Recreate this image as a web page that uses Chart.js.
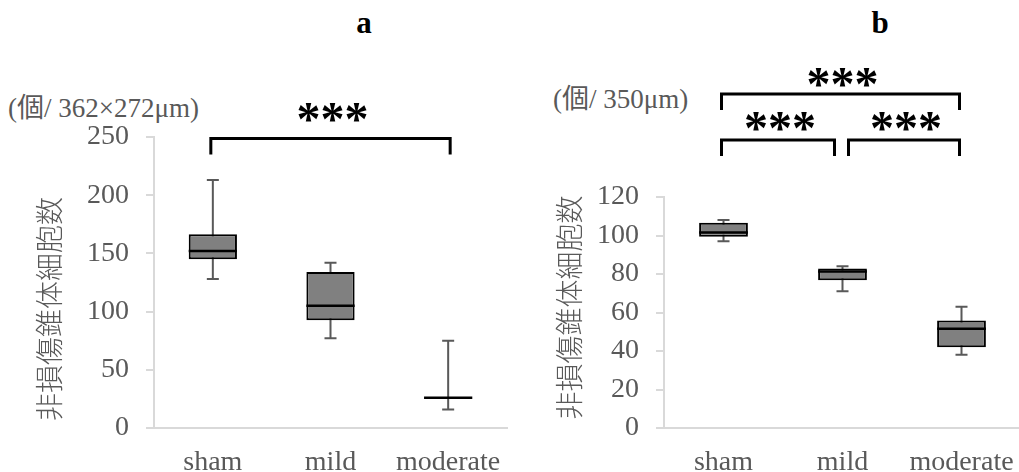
<!DOCTYPE html>
<html>
<head>
<meta charset="utf-8">
<script src="https://cdn.jsdelivr.net/npm/chart.js@4.4.1/dist/chart.umd.min.js"></script>
<style>
  body { margin: 0; background: #fff; width: 1019px; height: 472px; overflow: hidden; position: relative; font-family: "Liberation Serif", "Noto Sans CJK JP", serif; }
  canvas { position: absolute; top: 0; }
  #chartA { left: 0; }
  #chartB { left: 508px; }
  .letter { position: absolute; top: 7px; font-size: 31px; line-height: 31px; font-weight: bold; color: #000; transform: translateX(-50%); }
  .unit { position: absolute; font-size: 27px; line-height: 27px; color: #595959; white-space: nowrap; }
</style>
</head>
<body>
<div class="letter" style="left:364px">a</div>
<div class="letter" style="left:880px">b</div>
<div class="unit" style="left:8px; top:95px">(個/ 362×272μm)</div>
<div class="unit" style="left:553px; top:86px">(個/ 350μm)</div>
<canvas id="chartA" width="510" height="472"></canvas>
<canvas id="chartB" width="513" height="472"></canvas>
<script>
const groups = ['sham', 'mild', 'moderate'];

// a: cells per 362×272 µm field
const aMin    = [128, 77, 16];
const aQ1     = [145, 92.5, 26];
const aMedian = [152, 105, 26];
const aQ3     = [166.5, 134, 26];
const aMax    = [213, 142, 75];
const aTicks  = { max: 250, step: 50 };

// b: cells per 350 µm
const bMin    = [97, 71, 38];
const bQ1     = [99.4, 76.8, 42];
const bMedian = [101.5, 81.3, 51.6];
const bQ3     = [106.6, 82.8, 55.8];
const bMax    = [108, 84, 63];
const bTicks  = { max: 120, step: 20 };

// significance brackets: group index pairs and their label
const aSig = [{ from: 0, to: 2, label: '***' }];
const bSig = [
  { from: 0, to: 2, label: '***' },
  { from: 0, to: 1, label: '***' },
  { from: 1, to: 2, label: '***' },
];

const yTitle = '非損傷錐体細胞数';
const GRAY = '#595959';
const AXIS = '#d9d9d9';

// whiskers, medians, brackets and the vertical axis title
const boxPlot = {
  id: 'boxPlot',
  beforeDatasetsDraw(chart, args, opts) {
    const { ctx, scales: { y } } = chart;
    const bars = chart.getDatasetMeta(0).data;
    ctx.save();
    ctx.strokeStyle = GRAY;
    ctx.lineWidth = 2;
    bars.forEach((bar, i) => {
      const top = y.getPixelForValue(opts.max[i]);
      const bot = y.getPixelForValue(opts.min[i]);
      ctx.beginPath();
      ctx.moveTo(bar.x, top); ctx.lineTo(bar.x, bot);
      ctx.moveTo(bar.x - 6, top); ctx.lineTo(bar.x + 6, top);
      ctx.moveTo(bar.x - 6, bot); ctx.lineTo(bar.x + 6, bot);
      ctx.stroke();
    });
    ctx.restore();
  },
  afterDatasetsDraw(chart, args, opts) {
    const { ctx, scales: { y } } = chart;
    const bars = chart.getDatasetMeta(0).data;
    ctx.save();
    ctx.strokeStyle = '#000';
    ctx.lineWidth = 2.5;
    bars.forEach((bar, i) => {
      const py = y.getPixelForValue(opts.median[i]);
      ctx.beginPath();
      ctx.moveTo(bar.x - bar.width / 2, py);
      ctx.lineTo(bar.x + bar.width / 2, py);
      ctx.stroke();
    });
    ctx.restore();
  },
  afterDraw(chart, args, opts) {
    const { ctx, chartArea, scales: { x } } = chart;
    ctx.save();
    // brackets
    ctx.strokeStyle = '#000';
    ctx.fillStyle = '#000';
    ctx.lineWidth = 3;
    ctx.font = 'bold 48px "Liberation Serif"';
    ctx.textAlign = 'center';
    ctx.textBaseline = 'alphabetic';
    opts.brackets.forEach((b, k) => {
      const lay = opts.layout[k];
      const x1 = x.getPixelForValue(b.from) + lay.inset[0];
      const x2 = x.getPixelForValue(b.to) + lay.inset[1];
      const yb = chartArea.top + lay.rise;
      ctx.beginPath();
      ctx.moveTo(x1, yb + 16);
      ctx.lineTo(x1, yb);
      ctx.lineTo(x2, yb);
      ctx.lineTo(x2, yb + 16);
      ctx.stroke();
      // centre the glyphs themselves on the label line
      const m = ctx.measureText(b.label);
      const cy = yb + lay.label;
      ctx.fillText(b.label, (x1 + x2) / 2 + 2, cy + (m.actualBoundingBoxAscent - m.actualBoundingBoxDescent) / 2);
    });
    // vertical axis title
    ctx.translate(opts.title.x, opts.title.y);
    ctx.rotate(-Math.PI / 2);
    ctx.fillStyle = GRAY;
    ctx.font = '300 28px "Noto Sans CJK JP"';
    ctx.textAlign = 'center';
    ctx.textBaseline = 'middle';
    ctx.fillText(yTitle, 0, 0);
    ctx.restore();
  }
};

function makeChart(id, q1, q3, stats, ticks, yWidth, padding) {
  return new Chart(document.getElementById(id), {
    type: 'bar',
    data: {
      labels: groups,
      datasets: [{
        data: groups.map((g, i) => [q1[i], q3[i]]),
        backgroundColor: '#808080',
        borderColor: '#000',
        borderWidth: 2,
        borderSkipped: false,
        barPercentage: 0.41,
        categoryPercentage: 1,
      }],
    },
    options: {
      responsive: false,
      animation: false,
      devicePixelRatio: 1,
      layout: { padding },
      plugins: {
        legend: { display: false },
        tooltip: { enabled: false },
        boxPlot: stats,
      },
      scales: {
        x: {
          grid: { display: false, drawTicks: false },
          border: { color: AXIS, width: 2 },
          ticks: { color: GRAY, font: { family: 'Liberation Serif', size: 28 }, padding: 18 },
          afterFit: s => {
            s.height = 44;
            // labels fit inside their categories, no extra side room needed
            s.paddingLeft = 0;
            s.paddingRight = 0;
          },
        },
        y: {
          min: 0,
          max: ticks.max,
          grid: { drawOnChartArea: false, color: AXIS, lineWidth: 2, tickLength: 8 },
          border: { color: AXIS, width: 2 },
          ticks: { stepSize: ticks.step, color: GRAY, font: { family: 'Liberation Serif', size: 28 }, padding: 17 },
          afterFit: s => { s.width = yWidth; },
        },
      },
    },
    plugins: [boxPlot],
  });
}

makeChart('chartA', aQ1, aQ3, {
  min: aMin, median: aMedian, max: aMax,
  brackets: aSig,
  layout: [{ inset: [-2, 2], rise: 1.5, label: -26.5 }],
  title: { x: 49, y: 309 },
}, aTicks, 154, { top: 137, right: 3, left: 0, bottom: 0 });

makeChart('chartB', bQ1, bQ3, {
  min: bMin, median: bMedian, max: bMax,
  brackets: bSig,
  layout: [
    { inset: [-2, -2], rise: -103, label: -17 },
    { inset: [-2, -8], rise: -57, label: -18.5 },
    { inset: [6, -2], rise: -57, label: -18.5 },
  ],
  title: { x: 61, y: 307.5 },
}, bTicks, 156, { top: 197, right: 0, left: 0, bottom: 0 });
</script>
</body>
</html>
